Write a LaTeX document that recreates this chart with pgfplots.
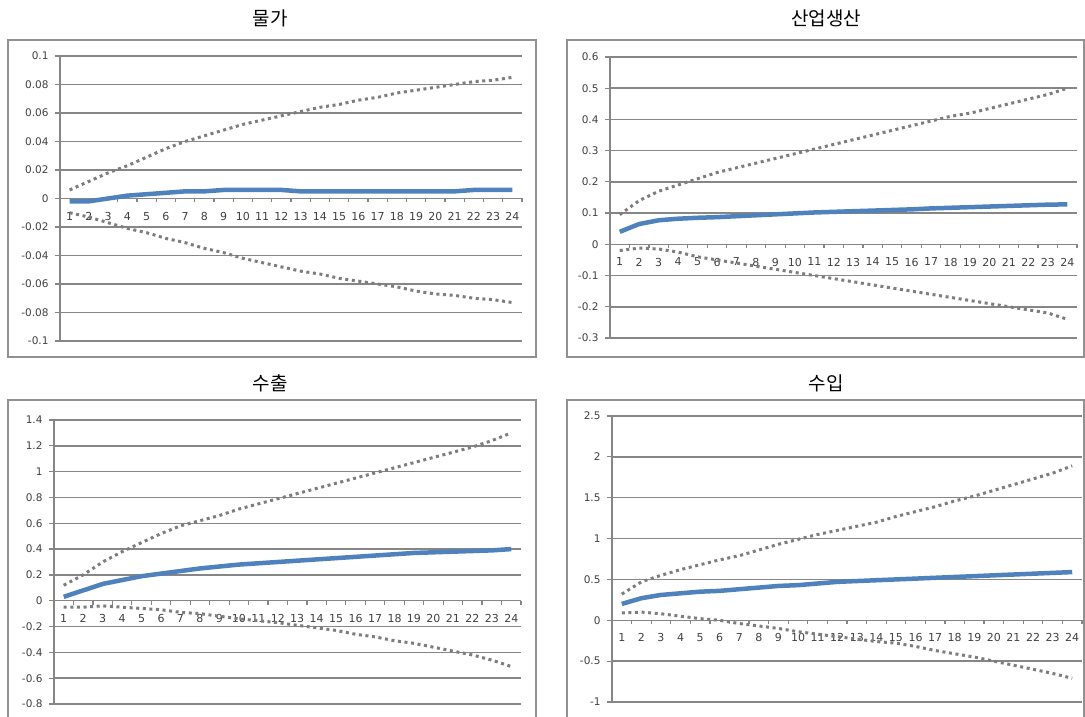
\documentclass[border=0pt]{standalone}
\usepackage{pgfplots}
\pgfplotsset{compat=1.18}
\usepackage{pgfplotstable}
\usepackage{fontspec}
\setmainfont{DejaVu Sans}
\newfontfamily\kr{Noto Sans CJK KR}

\definecolor{irfblue}{RGB}{79,129,189}
\definecolor{bandgray}{RGB}{125,125,125}
\definecolor{gridgray}{RGB}{134,134,134}
\definecolor{framegray}{RGB}{145,145,145}

\pgfplotsset{
  irf/.style={
    scale only axis,
    anchor=north west,
    xmin=0.5, xmax=24.5,
    axis x line=middle, axis y line=left,
    axis line style={-, draw=gridgray, line width=1.5pt},
    xtick={1,...,24},
    minor xtick={0.5,1.5,...,24.5},
    major x tick style={draw=none},
    tick align=outside,
    major tick length=5pt,
    minor tick length=4pt,
    tick style={gridgray, line width=1.2pt},
    ymajorgrids,
    grid style={gridgray, line width=1.5pt},
    /pgf/number format/assume math mode=true,
    xticklabel style={font=\fontsize{11}{12}\selectfont, text=black!75, yshift=-5pt},
    yticklabel style={font=\fontsize{10.5}{12}\selectfont, text=black!75, xshift=-3pt},
    clip=false,
  },
  ci/.style={bandgray, line width=3pt, dash pattern=on 3pt off 3.6pt},
  resp/.style={irfblue, line width=4.5pt},
}

% impulse responses: step, lower band, response, upper band
\pgfplotstableread{
t lo mid hi
1  -0.010 -0.002 0.006
2  -0.013 -0.002 0.012
3  -0.017  0.000 0.018
4  -0.021  0.002 0.023
5  -0.024  0.003 0.029
6  -0.028  0.004 0.035
7  -0.031  0.005 0.040
8  -0.035  0.005 0.044
9  -0.038  0.006 0.048
10 -0.042  0.006 0.052
11 -0.045  0.006 0.055
12 -0.048  0.006 0.058
13 -0.051  0.005 0.061
14 -0.053  0.005 0.064
15 -0.056  0.005 0.066
16 -0.058  0.005 0.069
17 -0.060  0.005 0.071
18 -0.062  0.005 0.074
19 -0.065  0.005 0.076
20 -0.067  0.005 0.078
21 -0.068  0.005 0.080
22 -0.070  0.006 0.082
23 -0.071  0.006 0.083
24 -0.073  0.006 0.085
}\tabprice

\pgfplotstableread{
t lo mid hi
1  -0.020 0.040 0.095
2  -0.012 0.065 0.140
3  -0.015 0.077 0.170
4  -0.025 0.082 0.190
5  -0.040 0.085 0.210
6  -0.050 0.087 0.230
7  -0.060 0.090 0.245
8  -0.070 0.093 0.260
9  -0.080 0.096 0.275
10 -0.090 0.099 0.290
11 -0.100 0.102 0.305
12 -0.110 0.104 0.320
13 -0.120 0.106 0.335
14 -0.130 0.108 0.350
15 -0.140 0.110 0.365
16 -0.150 0.112 0.380
17 -0.160 0.115 0.395
18 -0.170 0.117 0.410
19 -0.180 0.119 0.420
20 -0.190 0.121 0.435
21 -0.200 0.123 0.450
22 -0.210 0.125 0.465
23 -0.220 0.127 0.480
24 -0.240 0.128 0.500
}\tabprod

\pgfplotstableread{
t lo mid hi
1  -0.05  0.030 0.12
2  -0.05  0.080 0.20
3  -0.04  0.130 0.30
4  -0.05  0.160 0.38
5  -0.06  0.190 0.45
6  -0.07  0.210 0.52
7  -0.09  0.230 0.58
8  -0.10  0.250 0.62
9  -0.12  0.265 0.66
10 -0.14  0.280 0.71
11 -0.155 0.290 0.75
12 -0.17  0.300 0.79
13 -0.19  0.310 0.83
14 -0.21  0.320 0.87
15 -0.23  0.330 0.91
16 -0.26  0.340 0.95
17 -0.28  0.350 0.99
18 -0.31  0.360 1.03
19 -0.33  0.370 1.07
20 -0.36  0.375 1.11
21 -0.39  0.380 1.15
22 -0.42  0.385 1.19
23 -0.46  0.390 1.24
24 -0.51  0.400 1.30
}\tabexp

\pgfplotstableread{
t lo mid hi
1   0.09 0.20 0.32
2   0.10 0.27 0.47
3   0.08 0.31 0.55
4   0.05 0.33 0.62
5   0.02 0.35 0.68
6   0.00 0.36 0.74
7  -0.04 0.38 0.79
8  -0.07 0.40 0.86
9  -0.10 0.42 0.93
10 -0.14 0.43 0.99
11 -0.17 0.45 1.05
12 -0.20 0.47 1.10
13 -0.23 0.48 1.15
14 -0.26 0.49 1.20
15 -0.28 0.50 1.27
16 -0.32 0.51 1.33
17 -0.37 0.52 1.39
18 -0.41 0.53 1.46
19 -0.45 0.54 1.52
20 -0.50 0.55 1.59
21 -0.55 0.56 1.66
22 -0.60 0.57 1.73
23 -0.65 0.58 1.80
24 -0.71 0.59 1.89
}\tabimp

\begin{document}
\begin{tikzpicture}
\useasboundingbox (0pt,0pt) rectangle (1085pt,717pt);

% chart frames
\draw[framegray, line width=1.5pt] (8pt,677pt) rectangle (536pt,360pt);
\draw[framegray, line width=1.5pt] (567pt,677pt) rectangle (1084pt,360pt);
\draw[framegray, line width=1.5pt] (8pt,317pt) rectangle (536pt,-10pt);
\draw[framegray, line width=1.5pt] (567pt,317pt) rectangle (1084pt,-10pt);

% panel titles
\node[font=\kr\fontsize{19}{22}\selectfont] at (270pt,699pt) {물가};
\node[font=\kr\fontsize{19}{22}\selectfont] at (826pt,699pt) {산업생산};
\node[font=\kr\fontsize{19}{22}\selectfont] at (270pt,334pt) {수출};
\node[font=\kr\fontsize{19}{22}\selectfont] at (826pt,334pt) {수입};

% prices
\begin{axis}[irf, at={(60pt,661pt)}, width=462pt, height=285pt,
  ymin=-0.1, ymax=0.1,
  ytick={-0.1,-0.08,-0.06,-0.04,-0.02,0,0.02,0.04,0.06,0.08,0.1},
  yticklabels={-0.1,-0.08,-0.06,-0.04,-0.02,0,0.02,0.04,0.06,0.08,0.1}]
\addplot[ci] table[x=t,y=hi] {\tabprice};
\addplot[ci] table[x=t,y=lo] {\tabprice};
\addplot[resp] table[x=t,y=mid] {\tabprice};
\end{axis}

% industrial production
\begin{axis}[irf, at={(610pt,660pt)}, width=467pt, height=281pt,
  ymin=-0.3, ymax=0.6,
  ytick={-0.3,-0.2,-0.1,0,0.1,0.2,0.3,0.4,0.5,0.6},
  yticklabels={-0.3,-0.2,-0.1,0,0.1,0.2,0.3,0.4,0.5,0.6}]
\addplot[ci] table[x=t,y=hi] {\tabprod};
\addplot[ci] table[x=t,y=lo] {\tabprod};
\addplot[resp] table[x=t,y=mid] {\tabprod};
\end{axis}

% exports
\begin{axis}[irf, at={(54pt,297pt)}, width=467pt, height=284pt,
  ymin=-0.8, ymax=1.4,
  ytick={-0.8,-0.6,-0.4,-0.2,0,0.2,0.4,0.6,0.8,1,1.2,1.4},
  yticklabels={-0.8,-0.6,-0.4,-0.2,0,0.2,0.4,0.6,0.8,1,1.2,1.4}]
\addplot[ci] table[x=t,y=hi] {\tabexp};
\addplot[ci] table[x=t,y=lo] {\tabexp};
\addplot[resp] table[x=t,y=mid] {\tabexp};
\end{axis}

% imports
\begin{axis}[irf, at={(612pt,301pt)}, width=470pt, height=286pt,
  ymin=-1, ymax=2.5,
  ytick={-1,-0.5,0,0.5,1,1.5,2,2.5},
  yticklabels={-1,-0.5,0,0.5,1,1.5,2,2.5}]
\addplot[ci] table[x=t,y=hi] {\tabimp};
\addplot[ci] table[x=t,y=lo] {\tabimp};
\addplot[resp] table[x=t,y=mid] {\tabimp};
\end{axis}
\end{tikzpicture}
\end{document}
